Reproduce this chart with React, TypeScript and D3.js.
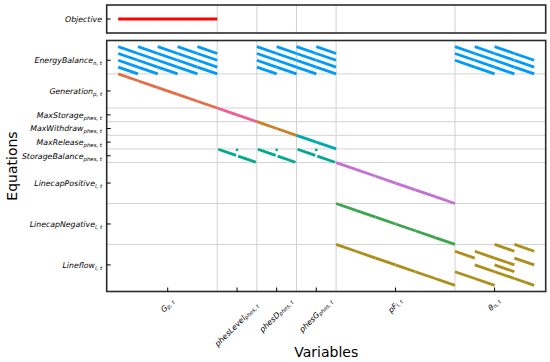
import React from "react";
import * as d3 from "d3";

// Variable groups (x axis), size in index blocks (each block = all time steps of one unit)
const varLabels = ["G", "phesLevel", "phesD", "phesG", "pF", "θ"];
const varSubs = ["p, t", "phes, t", "phes, t", "phes, t", "l, t", "n, t"];
const varSizes = [5, 2, 2, 2, 6, 4];

// Equation groups (y axis)
const eqLabels = [
  "EnergyBalance",
  "Generation",
  "MaxStorage",
  "MaxWithdraw",
  "MaxRelease",
  "StorageBalance",
  "LinecapPositive",
  "LinecapNegative",
  "Lineflow",
];
const eqSubs = ["n, t", "p, t", "phes, t", "phes, t", "phes, t", "phes, t", "l, t", "l, t", "l, t"];
const eqSizes = [4, 5, 2, 2, 2, 2, 6, 6, 6];

// Non-zero diagonal blocks: [equation block row, variable block column]
const objectiveBlocks = [0, 1, 2, 3, 4];
const energyBalanceBlocks = [
  [0, 0], [0, 1], [0, 2], [0, 3], [0, 4],
  [1, 0], [1, 1], [1, 2], [1, 3], [1, 4],
  [2, 0], [2, 1], [2, 2], [2, 3], [2, 4],
  [3, 0], [3, 1], [3, 2], [3, 3], [3, 4],
  [0, 7], [0, 8], [0, 9], [0, 10],
  [1, 7], [1, 8], [1, 9], [1, 10],
  [2, 7], [2, 8], [2, 9], [2, 10],
  [3, 7], [3, 8], [3, 9], [3, 10],
  [0, 17], [0, 18], [0, 19],
  [1, 17], [1, 18], [1, 19], [1, 20],
  [2, 17], [2, 18], [2, 19], [2, 20],
  [3, 18], [3, 19], [3, 20],
];
const generationBlocks = [[4, 0], [5, 1], [6, 2], [7, 3], [8, 4]];
const maxStorageBlocks = [[9, 5], [10, 6]];
const maxWithdrawBlocks = [[11, 7], [12, 8]];
const maxReleaseBlocks = [[13, 9], [14, 10]];
const storageBalanceBlocks = [[15, 5], [16, 6], [15, 7], [16, 8], [15, 9], [16, 10]];
const storageBalanceDots = [[15, 6], [15, 8], [15, 10]];
const linecapPosBlocks = [[17, 11], [18, 12], [19, 13], [20, 14], [21, 15], [22, 16]];
const linecapNegBlocks = [[23, 11], [24, 12], [25, 13], [26, 14], [27, 15], [28, 16]];
const lineflowBlocks = [
  [29, 11], [30, 12], [31, 13], [32, 14], [33, 15], [34, 16],
  [29, 19], [29, 20],
  [30, 17], [30, 18],
  [31, 19], [31, 20],
  [32, 18], [32, 19],
  [33, 17], [33, 19],
  [34, 18], [34, 20],
];

const families = [
  { blocks: energyBalanceBlocks, color: "#009AFA" },
  { blocks: generationBlocks, color: "#E36F47" },
  { blocks: maxStorageBlocks, color: "#ED5E93" },
  { blocks: maxWithdrawBlocks, color: "#C68225" },
  { blocks: maxReleaseBlocks, color: "#00A9AD" },
  { blocks: storageBalanceBlocks, color: "#00A98E", inset: 0.05 },
  { blocks: linecapPosBlocks, color: "#C371D2" },
  { blocks: linecapNegBlocks, color: "#3EA44E" },
  { blocks: lineflowBlocks, color: "#AC8E18" },
];

const FONT = "DejaVu Sans, Liberation Sans, sans-serif";

export default function App() {
  const W = 550, H = 362;
  const left = 106.7, right = 545.7;
  const mainTop = 40.5, mainBottom = 291.5;
  const topTop = 5, topBottom = 33;

  const nVar = d3.sum(varSizes);
  const nEq = d3.sum(eqSizes);
  const xs = d3.scaleLinear().domain([-0.58, nVar + 0.58]).range([left, right]);
  const ys = d3.scaleLinear().domain([-0.9, nEq + 0.9]).range([mainTop, mainBottom]);
  const objY = (topTop + topBottom) / 2;

  const varStarts = d3.cumsum([0, ...varSizes]);
  const eqStarts = d3.cumsum([0, ...eqSizes]);
  const varBounds = Array.from(varStarts).slice(1, varSizes.length);
  const eqBounds = Array.from(eqStarts).slice(1, eqSizes.length);
  const varCenters = varSizes.map((s, i) => varStarts[i] + s / 2);
  const eqCenters = eqSizes.map((s, i) => eqStarts[i] + s / 2);

  // vertical placement of rotated x tick label centers
  const xLabelCy = [306, 325, 316, 316, 306, 305];

  const tickLen = 4;
  const gridColor = "#d2d2d2";
  const frameColor = "#2b2b2b";

  return (
    <svg
      width={W}
      height={H}
      style={{ position: "absolute", left: 0, top: 0, background: "#fff" }}
      fontFamily={FONT}
    >
      <rect x={0} y={0} width={W} height={H} fill="#fff" />

      {/* ---------- Top panel: Objective ---------- */}
      {varBounds.map((b) => (
        <line key={"tg" + b} x1={xs(b)} x2={xs(b)} y1={topTop} y2={topBottom} stroke={gridColor} strokeWidth={1} />
      ))}
      <line
        x1={xs(d3.min(objectiveBlocks)!)}
        x2={xs(d3.max(objectiveBlocks)! + 1)}
        y1={objY}
        y2={objY}
        stroke="#FF0000"
        strokeWidth={3}
      />
      <rect x={left} y={topTop} width={right - left} height={topBottom - topTop} fill="none" stroke={frameColor} strokeWidth={1.6} />
      <line x1={left} x2={left + tickLen} y1={objY} y2={objY} stroke="#000" strokeWidth={1} />
      <text x={102} y={objY + 2.8} textAnchor="end" fontSize={7.8} fontStyle="italic">Objective</text>

      {/* ---------- Main panel ---------- */}
      {varBounds.map((b) => (
        <line key={"vg" + b} x1={xs(b)} x2={xs(b)} y1={mainTop} y2={mainBottom} stroke={gridColor} strokeWidth={1} />
      ))}
      {eqBounds.map((b) => (
        <line key={"hg" + b} x1={left} x2={right} y1={ys(b)} y2={ys(b)} stroke={gridColor} strokeWidth={1} />
      ))}

      {families.map((f, fi) =>
        f.blocks.map(([r, c], i) => {
          const ins = f.inset || 0;
          return (
            <line
              key={fi + "-" + i}
              x1={xs(c + ins)}
              y1={ys(r + ins)}
              x2={xs(c + 1 - ins)}
              y2={ys(r + 1 - ins)}
              stroke={f.color}
              strokeWidth={2.8}
              strokeLinecap="butt"
            />
          );
        })
      )}
      {storageBalanceDots.map(([r, c], i) => (
        <circle key={"d" + i} cx={xs(c)} cy={ys(r) + 1} r={1.4} fill="#00A98E" />
      ))}

      <rect x={left} y={mainTop} width={right - left} height={mainBottom - mainTop} fill="none" stroke={frameColor} strokeWidth={1.6} />

      {/* y ticks */}
      {eqCenters.map((c, i) => (
        <g key={"yt" + i}>
          <line x1={left} x2={left + tickLen} y1={ys(c)} y2={ys(c)} stroke="#000" strokeWidth={1} />
          <text x={102} y={ys(c) + 2.8} textAnchor="end" fontSize={7.8} fontStyle="italic">
            {eqLabels[i]}
            <tspan fontSize={5.4} dy={2}>{eqSubs[i]}</tspan>
          </text>
        </g>
      ))}

      {/* x ticks */}
      {varCenters.map((c, i) => (
        <g key={"xt" + i}>
          <line x1={xs(c)} x2={xs(c)} y1={mainBottom} y2={mainBottom - tickLen} stroke="#000" strokeWidth={1} />
          <text
            transform={`translate(${xs(c)},${xLabelCy[i]}) rotate(-45)`}
            textAnchor="middle"
            dominantBaseline="middle"
            fontSize={7.8}
            fontStyle="italic"
          >
            {varLabels[i]}
            <tspan fontSize={5.4} dy={2}>{varSubs[i]}</tspan>
          </text>
        </g>
      ))}

      {/* axis titles */}
      <text
        transform={`translate(16.5,${(mainTop + mainBottom) / 2}) rotate(-90)`}
        textAnchor="middle"
        fontSize={14}
      >
        Equations
      </text>
      <text x={(left + right) / 2} y={357} textAnchor="middle" fontSize={14}>
        Variables
      </text>
    </svg>
  );
}
